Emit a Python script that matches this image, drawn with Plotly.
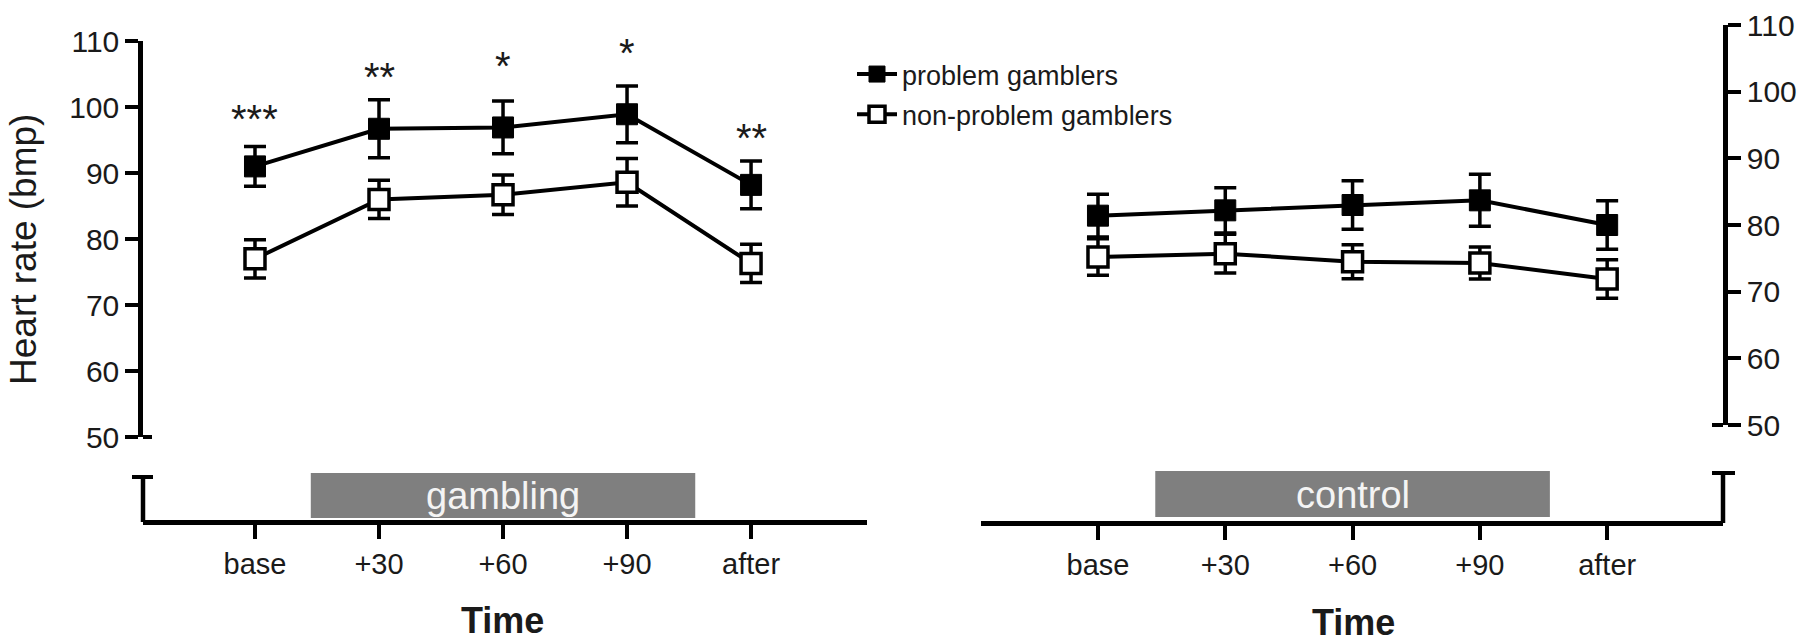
import plotly.graph_objects as go

# ---------------- data ----------------
time_labels = ["base", "+30", "+60", "+90", "after"]
x_pos = [0, 1, 2, 3, 4]

gamb_problem = [91.0, 96.7, 96.9, 98.9, 88.2]
gamb_problem_se = [3.0, 4.4, 4.0, 4.3, 3.6]
gamb_nonproblem = [77.0, 86.0, 86.7, 88.6, 76.3]
gamb_nonproblem_se = [2.9, 2.9, 3.0, 3.6, 2.9]

ctrl_problem = [81.4, 82.2, 83.0, 83.7, 80.0]
ctrl_problem_se = [3.2, 3.4, 3.65, 3.9, 3.65]
ctrl_nonproblem = [75.2, 75.7, 74.5, 74.3, 71.9]
ctrl_nonproblem_se = [2.75, 2.9, 2.55, 2.4, 2.9]

sig_labels = ["***", "**", "*", "*", "**"]
sig_heights = [98.8, 105.2, 106.9, 108.8, 96.0]   # heart-rate level of each star label
y_ticks = [50, 60, 70, 80, 90, 100, 110]
series_names = ["problem gamblers", "non-problem gamblers"]
condition_labels = ["gambling", "control"]

# ---------------- helpers ----------------
W, H = 1811, 642
FONT = "Arial, Liberation Sans, Helvetica, sans-serif"
TXT = "#1a1a1a"
LW = 4.5


def fx(p):
    return p / W


def fy(p):
    return 1 - p / H


fig = go.Figure()


def add_pair(xa, ya, prob, prob_se, nonp, nonp_se, show):
    fig.add_trace(go.Scatter(
        x=x_pos, y=prob, xaxis=xa, yaxis=ya, mode="lines+markers",
        name=series_names[0], legendgroup="a", showlegend=show,
        line=dict(color="black", width=4),
        marker=dict(symbol="square", size=21, color="black",
                    line=dict(color="black", width=1)),
        error_y=dict(type="data", array=prob_se, visible=True,
                     thickness=3.5, width=11, color="black"),
    ))
    fig.add_trace(go.Scatter(
        x=x_pos, y=nonp, xaxis=xa, yaxis=ya, mode="lines+markers",
        name=series_names[1], legendgroup="b", showlegend=show,
        line=dict(color="black", width=4),
        marker=dict(symbol="square", size=20, color="white",
                    line=dict(color="black", width=3.5)),
        error_y=dict(type="data", array=nonp_se, visible=True,
                     thickness=3.5, width=11, color="black"),
    ))


add_pair("x", "y", gamb_problem, gamb_problem_se,
         gamb_nonproblem, gamb_nonproblem_se, True)
add_pair("x2", "y2", ctrl_problem, ctrl_problem_se,
         ctrl_nonproblem, ctrl_nonproblem_se, False)

xcommon = dict(
    tickvals=x_pos, ticktext=time_labels, showline=True, linecolor="black",
    linewidth=LW, ticks="outside", ticklen=14, tickwidth=4, tickcolor="black",
    tickfont=dict(family=FONT, size=29, color=TXT), showgrid=False,
    zeroline=False, anchor="free", fixedrange=True, automargin=False,
)
ycommon = dict(
    range=[50, 110], tickvals=y_ticks, showline=True, linecolor="black",
    linewidth=LW, ticks="outside", ticklen=13, tickwidth=4, tickcolor="black",
    tickfont=dict(family=FONT, size=30, color=TXT), showgrid=False,
    zeroline=False, fixedrange=True, automargin=False,
)

fig.update_layout(
    width=W, height=H,
    margin=dict(l=0, r=0, t=0, b=0, pad=0, autoexpand=False),
    paper_bgcolor="white", plot_bgcolor="white",
    xaxis=dict(domain=[fx(143), fx(867)], range=[-0.903, 4.935],
               position=fy(522), **xcommon),
    yaxis=dict(domain=[fy(437), fy(41)], anchor="x", **ycommon),
    xaxis2=dict(domain=[fx(981), fx(1723)], range=[-0.919, 4.91],
                position=fy(523), **xcommon),
    yaxis2=dict(domain=[fy(425), fy(25)], anchor="x2", side="right",
                **ycommon),
    legend=dict(x=fx(852), y=fy(50), xanchor="left", yanchor="top",
                font=dict(family=FONT, size=27, color=TXT),
                bgcolor="rgba(0,0,0,0)", tracegroupgap=2,
                itemwidth=40),
    showlegend=True,
)

# axis-break stubs below the y axes
shapes = []
for (xp, ytop, ybot, cl, cr, y50, tl, tr) in [
        (143, 477, 522, 132, 153, 437, 143, 152),
        (1723, 473, 523, 1712, 1735, 425, 1712, 1723)]:
    shapes.append(dict(type="line", xref="paper", yref="paper",
                       x0=fx(xp), x1=fx(xp), y0=fy(ybot), y1=fy(ytop),
                       line=dict(color="black", width=LW)))
    shapes.append(dict(type="line", xref="paper", yref="paper",
                       x0=fx(cl), x1=fx(cr), y0=fy(ytop), y1=fy(ytop),
                       line=dict(color="black", width=4)))
    shapes.append(dict(type="line", xref="paper", yref="paper",
                       x0=fx(tl), x1=fx(tr), y0=fy(y50), y1=fy(y50),
                       line=dict(color="black", width=4)))

# condition bars
for xa, lab, ytop, ybot in [("x", condition_labels[0], 473, 518),
                            ("x2", condition_labels[1], 471, 517)]:
    shapes.append(dict(type="rect", xref=xa, yref="paper",
                       x0=0.45, x1=3.55, y0=fy(ybot), y1=fy(ytop),
                       fillcolor="#7f7f7f", line=dict(width=0), layer="below"))
    fig.add_annotation(x=2, xref=xa, y=fy((ytop + ybot) / 2 + 1), yref="paper",
                       text=lab, showarrow=False, yanchor="middle",
                       font=dict(family=FONT, size=38, color="#f4f4f4"))
fig.update_layout(shapes=shapes)

# significance stars
for i, s in enumerate(sig_labels):
    fig.add_annotation(x=x_pos[i], xref="x",
                       y=sig_heights[i] - 4.3, yref="y",
                       text=s, showarrow=False, yanchor="bottom",
                       font=dict(family=FONT, size=40, color=TXT))

# axis titles
fig.add_annotation(x=fx(24), y=fy(250), xref="paper", yref="paper",
                   text="Heart rate (bmp)", textangle=-90, showarrow=False,
                   xanchor="center", yanchor="middle",
                   font=dict(family=FONT, size=37, color=TXT))
for xc, yc in [(502, 620), (1353, 622)]:
    fig.add_annotation(x=fx(xc), y=fy(yc), xref="paper", yref="paper",
                       text="<b>Time</b>", showarrow=False,
                       xanchor="center", yanchor="middle",
                       font=dict(family=FONT, size=36, color=TXT))

fig.write_html("out.html")
